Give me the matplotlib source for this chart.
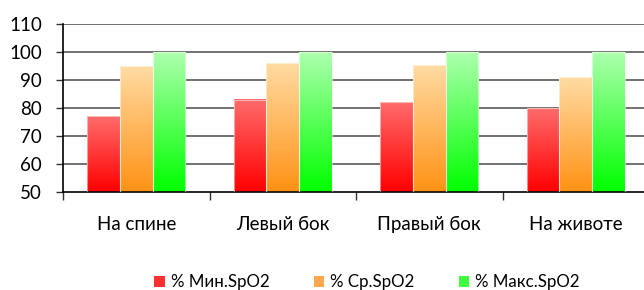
import numpy as np
import matplotlib
matplotlib.use("Agg")
import matplotlib.pyplot as plt
from matplotlib.patches import Patch
from matplotlib.colors import LinearSegmentedColormap

plt.rcParams['font.family'] = ['Lato', 'DejaVu Sans']

categories = ['На спине', 'Левый бок', 'Правый бок', 'На животе']
series_names = ['% Мин.SpO2', '% Ср.SpO2', '% Макс.SpO2']
spo2_min = [77, 83, 82, 80]
spo2_avg = [95, 96, 95.3, 91]
spo2_max = [100, 100, 100, 100]

# bottom colour, top colour for each series gradient
grads = [((1.0, 0.0, 0.0), (1.0, 0.42, 0.42)),
         ((1.0, 0.57, 0.08), (1.0, 0.86, 0.64)),
         ((0.0, 1.0, 0.0), (0.68, 1.0, 0.68))]
legend_cols = ['#ff3030', '#ffa850', '#40ff40']

fig = plt.figure(figsize=(6.44, 2.9), dpi=100)
ax = fig.add_axes([63/644, 1-192/290, 586/644, 168/290])

ymin, ymax = 50, 110
ax.set_ylim(ymin, ymax)
ax.set_xlim(0, len(categories))
ax.set_yticks(np.arange(50, 111, 10))
for y in np.arange(60, 111, 10):
    ax.axhline(y, color='#4a4a4a', lw=1.1, zorder=0)

bw = 0.222
x = np.arange(len(categories)) + 0.5
grad = np.linspace(0, 1, 256).reshape(-1, 1)
for k, vals in enumerate([spo2_min, spo2_avg, spo2_max]):
    cmap = LinearSegmentedColormap.from_list('g%d' % k, list(grads[k]))
    for i, v in enumerate(vals):
        x0 = x[i] + (k - 1.5) * bw
        ax.imshow(grad, extent=[x0, x0 + bw, ymin, v], origin='lower',
                  aspect='auto', cmap=cmap, zorder=2)
        ax.add_patch(plt.Rectangle((x0, ymin), bw, v - ymin, fill=False,
                                   edgecolor=(1, 1, 1, 0.5), lw=0.8, zorder=3))
ax.set_xlim(0, len(categories))
ax.set_ylim(ymin, ymax)

ax.set_xticks(x)
ax.set_xticklabels(categories, fontsize=13.5)
ax.set_xticks(np.arange(0, len(categories) + 1), minor=True)
ax.tick_params(axis='x', which='major', length=0, pad=17)
ax.tick_params(axis='x', which='minor', length=6, width=1, color='#333333', direction='out')
ax.tick_params(axis='y', length=5, width=1, color='#333333', pad=10, labelsize=13.5)

for s in ['top', 'right']:
    ax.spines[s].set_visible(False)
ax.spines['left'].set_linewidth(1.2)
ax.spines['bottom'].set_linewidth(1.2)

handles = [Patch(facecolor=c, edgecolor='none') for c in legend_cols]
fig.legend(handles, series_names, loc='center', bbox_to_anchor=(0.570, 1-282/290),
           ncol=3, frameon=False, fontsize=12.2, handlelength=0.62, handleheight=0.62,
           handletextpad=0.35, columnspacing=2.6)

fig.savefig('out.png', dpi=100)
